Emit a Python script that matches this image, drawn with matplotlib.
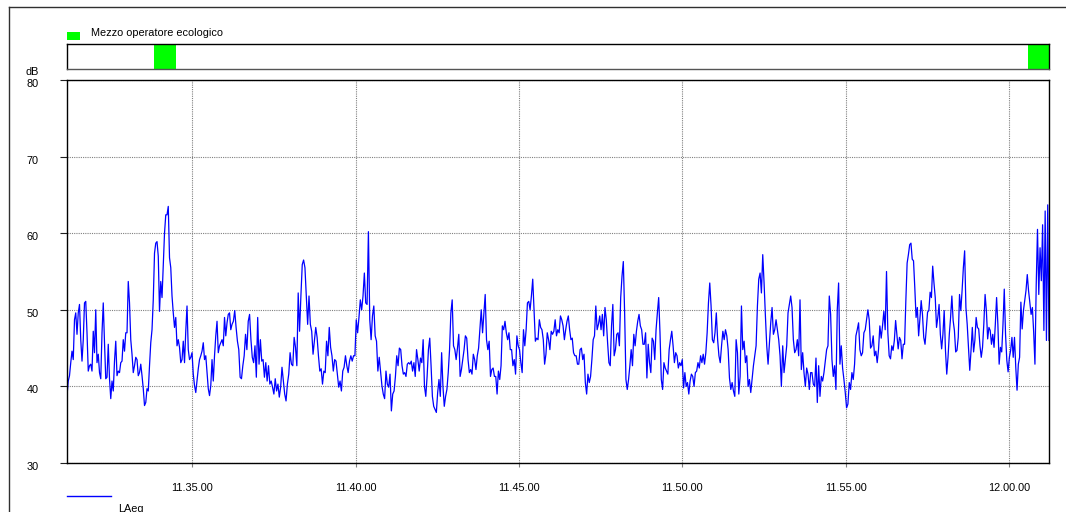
import matplotlib.pyplot as plt
import numpy as np
from matplotlib.lines import Line2D
from matplotlib.patches import Rectangle
from matplotlib.transforms import ScaledTranslation

plt.rcParams['font.family'] = ['Liberation Sans', 'DejaVu Sans']

# time axis
start_time = "11:31:10"
end_time = "12:01:13"
tick_labels = ['11.35.00', '11.40.00', '11.45.00', '11.50.00', '11.55.00', '12.00.00']
y_ticks = [30, 40, 50, 60, 70, 80]

# segments of the LAeq trace, read piece by piece (start times of each piece)
seg_starts = ["11:31:10", "11:36:13", "11:41:13", "11:46:16", "11:51:19", "11:56:22"]

laeq_1 = [38.8, 40.7, 41.4, 43.1, 44.6, 43.5, 48.7, 49.6, 46.8, 49.6, 50.7, 46.1, 43.3, 46.1, 50.9, 51.1,
          47.0, 42.0, 42.7, 42.9, 42.0, 47.2, 44.4, 50.0, 43.1, 44.2, 41.8, 41.0, 47.0, 50.9, 45.7, 41.0,
          41.2, 45.5, 41.0, 38.4, 40.7, 39.4, 43.3, 45.9, 41.4, 42.0, 41.8, 43.1, 43.3, 46.1, 44.6, 47.0,
          47.0, 53.7, 50.9, 46.1, 44.2, 41.8, 42.7, 43.8, 43.5, 41.4, 41.8, 42.9, 41.4, 39.7, 37.5, 37.9,
          39.7, 39.4, 42.7, 45.7, 47.4, 51.3, 57.4, 58.7, 58.9, 57.0, 49.8, 53.7, 51.6, 55.7, 60.0, 62.4,
          62.4, 63.5, 56.8, 55.5, 51.8, 49.6, 47.7, 49.0, 45.3, 46.1, 45.1, 43.1, 43.5, 45.9, 43.1, 47.2,
          50.5, 44.8, 43.5, 43.8, 44.4, 41.6, 40.1, 39.2, 40.7, 42.3, 43.5, 44.0, 44.6, 45.7, 43.5, 44.0,
          41.8, 39.7, 38.8, 40.1, 43.5, 40.7, 44.0, 46.6, 48.5, 44.4, 45.3, 45.7, 46.1, 45.3, 49.0, 46.6,
          48.3, 49.4, 49.6, 47.4]
laeq_2 = [48.1, 48.5, 49.9, 47.7, 45.9, 44.8, 41.2, 41.0, 42.7, 44.0, 46.8, 44.8, 48.5, 49.4, 46.1, 43.8,
          43.1, 45.3, 41.2, 49.0, 42.9, 46.1, 43.3, 43.5, 41.2, 43.1, 40.7, 42.7, 40.3, 40.7, 39.9, 39.0,
          41.0, 39.4, 40.3, 38.6, 39.9, 42.5, 40.7, 39.0, 38.1, 40.3, 41.6, 44.4, 42.9, 42.7, 46.4, 45.1,
          42.7, 52.2, 47.2, 51.8, 55.9, 56.5, 55.5, 51.8, 48.1, 51.8, 48.1, 47.2, 44.2, 45.9, 47.7, 46.4,
          44.0, 42.0, 42.3, 40.3, 42.0, 41.8, 45.9, 44.0, 47.7, 45.1, 44.0, 42.0, 43.5, 43.3, 41.6, 39.9,
          40.7, 39.4, 42.0, 42.5, 44.0, 42.7, 41.8, 43.3, 44.0, 43.3, 44.0, 44.0, 48.7, 47.0, 49.0, 51.3,
          50.0, 51.8, 54.8, 50.9, 50.7, 60.2, 48.7, 46.1, 49.2, 50.5, 46.6, 45.9, 42.0, 43.8, 42.0, 40.1,
          39.0, 38.4, 42.0, 40.3, 39.9, 41.6, 36.8, 39.0, 39.4]
laeq_3 = [41.3, 44.0, 42.7, 45.0, 44.8, 42.7, 41.6, 41.8, 41.3, 42.9, 43.1, 42.9, 43.3, 42.0, 43.1, 41.3,
          44.8, 43.5, 42.0, 43.7, 43.1, 46.1, 40.0, 38.7, 41.3, 44.8, 46.3, 42.7, 38.7, 37.4, 37.0, 36.6,
          39.2, 40.9, 38.7, 44.4, 40.0, 37.4, 38.7, 39.6, 41.8, 44.8, 49.6, 51.3, 45.3, 44.8, 43.5, 45.0,
          46.8, 41.3, 42.2, 43.5, 44.8, 46.6, 46.3, 43.5, 41.8, 42.2, 41.6, 44.2, 43.5, 42.2, 44.0, 45.0,
          47.4, 50.0, 47.0, 49.6, 52.0, 46.1, 44.8, 45.9, 41.3, 42.2, 42.4, 41.3, 41.3, 39.0, 42.0, 40.9,
          42.7, 47.9, 47.4, 48.5, 47.0, 46.1, 47.0, 44.8, 44.8, 42.7, 43.5, 41.6, 46.6, 45.3, 44.8, 43.1,
          41.8, 47.4, 45.3, 47.4, 50.9, 51.1, 50.0, 51.8, 54.0, 50.0, 45.9, 46.3, 46.1, 48.7, 47.7, 47.4,
          46.1, 42.9, 44.2, 47.0, 46.1, 44.8, 47.2, 46.8, 47.2, 48.7, 46.6, 47.4, 47.0]
laeq_4 = [49.2, 48.7, 47.9, 46.1, 47.4, 48.5, 49.2, 47.4, 46.1, 46.3, 44.4, 44.0, 44.0, 42.9, 42.9, 44.8,
          45.0, 43.5, 44.2, 40.5, 39.0, 41.6, 40.5, 41.3, 43.5, 46.1, 46.6, 50.5, 47.4, 48.1, 49.2, 47.4,
          49.4, 46.6, 50.3, 48.7, 45.7, 43.1, 42.7, 47.9, 50.7, 44.0, 44.8, 46.8, 47.0, 45.3, 51.6, 54.4,
          56.3, 49.6, 40.9, 39.6, 40.9, 42.7, 44.8, 42.7, 46.8, 45.3, 47.2, 48.5, 49.4, 47.9, 47.4, 45.5,
          45.5, 47.0, 41.1, 45.5, 43.1, 41.8, 46.3, 45.9, 43.5, 47.4, 49.6, 51.6, 47.0, 40.9, 39.6, 43.1,
          42.4, 42.0, 41.6, 44.8, 46.1, 47.2, 45.3, 43.1, 44.4, 44.0, 42.4, 43.1, 42.7, 43.5, 39.8, 41.8,
          40.0, 40.5, 39.0, 40.7, 41.6, 41.3, 40.0, 41.8, 42.0, 43.1, 42.4, 44.0, 43.1, 44.2, 42.9, 44.4,
          47.0, 50.9, 53.5, 50.5, 46.1, 45.7, 47.0, 49.6, 46.1, 44.0, 43.1, 45.3, 47.2, 46.1]
laeq_5 = [47.4, 46.6, 44.8, 41.1, 39.6, 40.5, 39.4, 38.7, 46.1, 44.4, 39.0, 41.3, 50.5, 44.8, 45.9, 43.1,
          44.0, 40.0, 40.9, 39.2, 40.9, 42.7, 44.0, 45.3, 50.5, 54.0, 54.8, 52.2, 57.2, 53.5, 49.2, 45.3,
          42.9, 45.7, 48.3, 50.3, 46.8, 47.4, 48.7, 47.4, 46.1, 44.0, 40.0, 45.3, 41.8, 43.5, 45.3, 49.6,
          50.7, 51.8, 50.3, 46.1, 44.4, 44.8, 46.1, 44.0, 51.3, 42.2, 44.4, 41.8, 40.0, 42.4, 41.6, 39.6,
          41.8, 41.8, 40.3, 40.0, 43.7, 37.9, 42.7, 38.7, 41.3, 40.7, 41.8, 43.3, 44.8, 45.3, 51.8, 49.4,
          43.5, 41.3, 42.7, 39.6, 50.0, 53.5, 42.9, 45.3, 42.4, 40.9, 39.2, 37.2, 37.7, 40.5, 39.6, 41.8,
          40.9, 42.9, 46.6, 47.4, 48.3, 44.8, 44.0, 44.4, 47.0, 47.4, 48.7, 50.0, 48.7, 45.0, 45.3, 46.6,
          44.0, 44.6, 43.1, 44.8, 47.9, 46.3, 47.9, 49.8, 47.4, 55.0, 47.0, 44.0]
laeq_6 = [43.6, 45.3, 44.7, 46.0, 48.6, 46.8, 44.9, 46.4, 46.0, 43.6, 45.5, 45.5, 51.2, 56.1, 57.2, 58.5,
          58.7, 56.6, 56.4, 52.9, 49.0, 50.3, 46.6, 48.8, 51.2, 49.4, 46.4, 45.5, 47.5, 49.7, 49.9, 52.3,
          51.6, 55.7, 53.5, 51.6, 47.7, 49.0, 50.7, 46.8, 44.9, 46.8, 49.9, 44.7, 41.6, 43.8, 46.8, 49.0,
          51.8, 48.6, 47.3, 44.5, 44.7, 46.4, 52.0, 49.9, 52.5, 55.5, 57.7, 50.3, 48.1, 45.1, 42.1, 44.7,
          47.7, 44.5, 46.0, 49.0, 47.7, 47.5, 45.3, 43.8, 45.1, 48.1, 52.0, 49.9, 46.2, 47.7, 47.3, 45.5,
          46.8, 45.1, 48.1, 51.6, 48.1, 42.9, 45.1, 44.5, 48.1, 52.7, 46.8, 43.4, 41.9, 43.8, 44.7, 46.4,
          43.8, 46.4, 42.5, 39.5, 42.9, 43.8, 51.0, 47.5, 49.9, 51.2, 52.5, 54.6, 52.5, 51.0, 49.4, 50.3,
          47.1, 42.9, 53.3, 60.5, 52.0, 58.1, 53.8, 61.1, 47.3, 62.9, 46.0, 63.7, 46.0]
segments = [laeq_1, laeq_2, laeq_3, laeq_4, laeq_5, laeq_6]

# "Mezzo operatore ecologico" events
event_starts = ["11:33:50", "12:00:35"]
event_ends = ["11:34:31", "12:01:13"]


def to_sec(s):
    h, m, sec = [int(v) for v in s.replace('.', ':').split(':')]
    return h * 3600 + m * 60 + sec


# build time stamps for every segment
bounds = [to_sec(s) for s in seg_starts] + [to_sec(end_time)]
t_all, v_all = [], []
for i, seg in enumerate(segments):
    last = i == len(segments) - 1
    t_all.append(np.linspace(bounds[i], bounds[i + 1], len(seg), endpoint=last))
    v_all.append(np.array(seg))
t_all = np.concatenate(t_all)
v_all = np.concatenate(v_all)

t0, t1 = to_sec(start_time), to_sec(end_time)

W, H = 1066, 512
fig = plt.figure(figsize=(W / 100, H / 100), dpi=100)


def px_box(x0, y0, x1, y1):
    return [x0 / W, 1 - y1 / H, (x1 - x0) / W, (y1 - y0) / H]


FS = 7.8

# ---- main plot ----
ax = fig.add_axes(px_box(67, 80, 1049, 463))
ax.plot(t_all, v_all, color='#0000FF', lw=0.9)
ax.set_xlim(t0, t1)
ax.set_ylim(30, 80)
ax.set_xticks([to_sec(l) for l in tick_labels])
ax.set_xticklabels(tick_labels, fontsize=FS)
ax.set_yticks(y_ticks)
ax.set_yticklabels([str(v) for v in y_ticks], fontsize=FS)
ax.tick_params(axis='y', length=5, width=0.8, color='#202020', pad=15.5)
ax.tick_params(axis='x', length=3, width=0.8, color='#808080', pad=11.5)
for lab in ax.get_yticklabels():
    lab.set_transform(lab.get_transform() + ScaledTranslation(0, -3 / 100, fig.dpi_scale_trans))
ax.grid(True, color='#808080', linestyle=(0, (1, 1)), lw=0.8)
for sp in ax.spines.values():
    sp.set_color('black')
    sp.set_linewidth(1)

fig.text(39 / W, 1 - 72 / H, 'dB', ha='right', va='center', fontsize=FS)

# ---- event strip ----
ax2 = fig.add_axes(px_box(67, 44, 1049, 69))
ax2.set_xlim(t0, t1)
ax2.set_ylim(0, 1)
ax2.set_xticks([])
ax2.set_yticks([])
for s, e in zip(event_starts, event_ends):
    ax2.axvspan(to_sec(s), to_sec(e), color='#00FF00', lw=0)
for sp in ax2.spines.values():
    sp.set_linewidth(1)
    sp.set_color('black')
ax2.spines['bottom'].set_color('#555555')

fig.add_artist(Rectangle((67 / W, 1 - 40 / H), 13 / W, 8 / H, transform=fig.transFigure,
                         facecolor='#00FF00', edgecolor='none'))
fig.text(91 / W, 1 - 33 / H, 'Mezzo operatore ecologico', ha='left', va='center', fontsize=FS)

# ---- legend below ----
fig.add_artist(Line2D([67 / W, 111 / W], [1 - 496 / H] * 2, color='#0000FF', lw=1,
                      transform=fig.transFigure))
fig.text(118 / W, 1 - 504 / H, 'LAeq', ha='left', va='top', fontsize=FS)

# outer frame
fig.add_artist(Line2D([9 / W, 1], [1 - 7 / H] * 2, color='#303030', lw=1, transform=fig.transFigure))
fig.add_artist(Line2D([9 / W] * 2, [0, 1 - 7 / H], color='#303030', lw=1, transform=fig.transFigure))

fig.savefig('out.png', dpi=100)
